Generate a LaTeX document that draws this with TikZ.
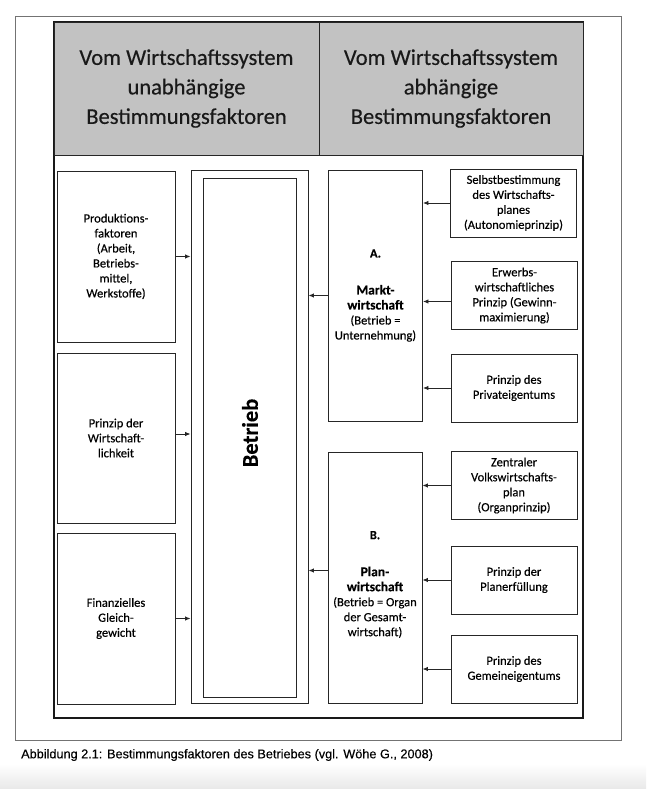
\documentclass[tikz,border=0pt]{standalone}
\usepackage{fontspec}
\setmainfont{Carlito}[FakeBold=0.35]
\newfontfamily\capfont{Liberation Sans}[FakeBold=0.3]
\usetikzlibrary{arrows.meta,calc}
\begin{document}
\begin{tikzpicture}[x=1pt,y=-1pt,
  box/.style={draw=black!85, line width=0.9pt, fill=white, align=center,
    font=\fontsize{12.5}{15}\selectfont, inner sep=1pt},
  lbox/.style={box, minimum width=118pt, minimum height=171pt},
  rbox/.style={box, minimum width=126pt, minimum height=68pt},
  mbox/.style={box, minimum width=94pt, minimum height=251pt},
  hdr/.style={draw=black!85, line width=0.9pt, fill=black!24, align=center,
    font=\fontsize{22.5}{29.5}\selectfont, text=black!90,
    minimum height=133pt, inner sep=0pt},
  arr/.style={-{Latex[length=5.5pt,width=4.5pt]}, line width=0.9pt, draw=black!85},
  txt/.style={align=center, font=\fontsize{12.5}{15}\selectfont}
]
\useasboundingbox (0,0) rectangle (646,789);
\shade[top color=white, bottom color=black!9] (0,764) rectangle (646,789);
% frames
\draw[black!55, line width=0.8pt] (15,16) rectangle (621,740);
\draw[black!90, line width=1.2pt] (54,22) rectangle (583,718);
% header
\node[hdr, minimum width=265pt] (hl) at (186.5,88.5)
  {Vom Wirtschaftssystem\\unabhängige\\Bestimmungsfaktoren};
\node[hdr, minimum width=264pt] (hr) at (451,88.5)
  {Vom Wirtschaftssystem\\abhängige\\Bestimmungsfaktoren};
% left boxes
\node[lbox] (p1) at (116,256.5)
  {Produktions-\\faktoren\\(Arbeit,\\Betriebs-\\mittel,\\Werkstoffe)};
\node[lbox, minimum height=170pt] (p2) at (116,438)
  {Prinzip der\\Wirtschaft-\\lichkeit};
\node[lbox] (p3) at (116,618.5)
  {Finanzielles\\Gleich-\\gewicht};
% Betrieb
\node[box, minimum width=117pt, minimum height=533pt] (bo) at (249.5,436.5) {};
\node[box, minimum width=93pt, minimum height=519pt] (bi) at (249.5,437.5) {};
\node[rotate=90, font=\fontsize{22.5}{26}\selectfont\bfseries] (bt) at (250,433) {Betrieb};
% middle boxes
\node[mbox] (mk) at (375.5,295.5)
  {{\bfseries A.}\\[22pt]{\bfseries\fontsize{13.5}{15}\selectfont Markt-}\\{\bfseries\fontsize{13.5}{15}\selectfont wirtschaft}\\(Betrieb =\\Unternehmung)};
\node[mbox] (pl) at (375,577.5) {};
\node[txt] (plt) at ($(pl.center)+(0,7)$)
  {{\bfseries B.}\\[22pt]{\bfseries\fontsize{13.5}{15}\selectfont Plan-}\\{\bfseries\fontsize{13.5}{15}\selectfont wirtschaft}\\(Betrieb = Organ\\der Gesamt-\\wirtschaft)};
% right boxes
\node[rbox] (r1) at (513.5,203)
  {Selbstbestimmung\\des Wirtschafts-\\planes\\(Autonomieprinzip)};
\node[rbox] (r2) at (514.5,295.5)
  {Erwerbs-\\wirtschaftliches\\Prinzip (Gewinn-\\maximierung)};
\node[rbox] (r3) at (514,388)
  {Prinzip des\\Privateigentums};
\node[rbox] (r4) at (514,485.5)
  {Zentraler\\Volkswirtschafts-\\plan\\(Organprinzip)};
\node[rbox] (r5) at (514,580)
  {Prinzip der\\Planerfüllung};
\node[rbox] (r6) at (514,669)
  {Prinzip des\\Gemeineigentums};
% arrows
\draw[arr] (p1.east) -- (p1.east -| bo.west);
\draw[arr] ([yshift=4pt]p2.east) -- ([yshift=4pt]p2.east -| bo.west);
\draw[arr] (p3.east) -- (p3.east -| bo.west);
\draw[arr] (mk.west) -- (mk.west -| bo.east);
\draw[arr] ([yshift=7pt]pl.west) -- ([yshift=7pt]pl.west -| bo.east);
\draw[arr] (r1.west) -- (r1.west -| mk.east);
\draw[arr] ([yshift=-6pt]r2.west) -- ([yshift=-6pt]r2.west -| mk.east);
\draw[arr] (r3.west) -- (r3.west -| mk.east);
\draw[arr] (r4.west) -- (r4.west -| pl.east);
\draw[arr] (r5.west) -- (r5.west -| pl.east);
\draw[arr] (r6.west) -- (r6.west -| pl.east);
% caption
\node[anchor=west, font=\capfont\fontsize{12.7}{14}\selectfont, inner sep=0pt] (cap) at (21,755)
  {Abbildung 2.1: Bestimmungsfaktoren des Betriebes (vgl. Wöhe G., 2008)};
\end{tikzpicture}
\end{document}
